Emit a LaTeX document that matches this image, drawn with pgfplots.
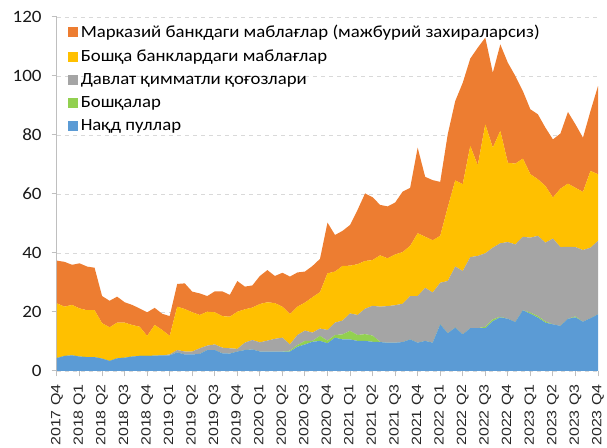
\documentclass[border=0pt]{standalone}
\usepackage{fontspec}
\setmainfont{Carlito}[FakeStretch=1.1]
\newfontfamily\xfont{Liberation Sans}[FakeStretch=1.2]
\usepackage{pgfplots}
\usepackage{pgfplotstable}
\pgfplotsset{compat=1.18}
\definecolor{cBlue}{HTML}{5B9BD5}
\definecolor{cGreen}{HTML}{92D050}
\definecolor{cGray}{HTML}{A5A5A5}
\definecolor{cYellow}{HTML}{FFC000}
\definecolor{cOrange}{HTML}{ED7D31}
\pgfplotstableread{
i b g s y o
0 4.4 0 0 18.5 14.5
1 5.1 0 0 16.7 15.2
2 5.3 0 0 17.1 13.6
3 4.9 0 0 16.3 15.3
4 4.7 0 0 15.9 14.8
5 4.7 0 0 15.9 14.4
6 4.2 0 0 12.0 9.2
7 3.4 0 0 11.4 9.0
8 4.3 0 0 12.1 8.8
9 4.5 0 0 11.9 6.9
10 4.9 0 0 10.7 6.8
11 5.1 0 0 9.9 6.2
12 5.1 0 0 6.8 8.0
13 5.2 0 0 10.4 5.8
14 5.3 0 0 8.6 5.5
15 5.3 0 0.3 6.3 6.7
16 6.3 0 0.8 14.7 7.7
17 5.6 0 1.0 14.4 8.7
18 5.6 0 1.0 13.3 7.0
19 5.8 0 1.9 11.3 7.3
20 7.1 0 1.5 11.5 5.3
21 7.1 0 1.9 10.9 7.1
22 6.0 0 1.9 10.7 8.4
23 5.9 0 1.8 10.7 7.4
24 6.6 0 0.9 12.6 10.4
25 7.1 0 2.5 11.3 7.7
26 7.3 0 3.2 11.0 7.5
27 6.6 0 3.1 13.0 9.5
28 6.6 0 3.7 13.0 10.9
29 6.6 0 4.3 12.1 9.2
30 6.6 0 4.7 10.5 11.5
31 6.6 0.3 2.1 10.3 12.7
32 8.2 0.6 3.4 9.6 11.6
33 9.0 1.2 3.5 9.5 10.5
34 9.9 0.3 2.8 12.0 10.6
35 10.2 1.7 2.5 12.3 11.3
36 9.4 0.9 3.6 19.2 17.2
37 11.3 0.9 4.2 17.3 12.4
38 10.7 1.7 4.7 18.5 11.9
39 10.7 2.9 5.9 16.2 13.8
40 10.2 2.0 6.8 17.2 18.4
41 10.2 2.3 8.6 16.2 22.9
42 9.9 2.1 10.1 15.5 21.3
43 9.8 0.1 11.9 17.4 17.1
44 9.6 0 12.4 16.2 17.6
45 9.6 0 12.7 17.2 17.6
46 9.8 0 13.0 17.5 20.5
47 10.7 0 14.7 17.0 19.7
48 9.6 0 15.8 21.3 29.0
49 10.2 0 18.0 17.3 20.3
50 9.6 0 17.0 17.7 20.4
51 15.8 0 14.1 15.9 18.3
52 12.8 0 17.7 24.9 24.8
53 14.7 0 20.7 29.2 26.9
54 12.4 0 21.5 29.4 34.4
55 14.5 0 24.1 37.7 29.6
56 14.5 0 24.5 30.7 39.9
57 14.5 0.5 24.9 43.7 29.4
58 16.9 0.6 24.3 33.9 25.4
59 18.2 0.2 24.9 38.1 29.3
60 17.7 0 26.0 26.9 33.9
61 16.6 0 26.3 27.4 29.7
62 20.6 0 24.9 26.5 22.9
63 19.4 0.4 25.4 21.5 22.0
64 18.1 0.5 27.2 19.2 22.0
65 16.4 0.4 26.7 19.2 19.8
66 15.8 0 29.1 13.9 19.7
67 15.3 0 26.7 19.8 18.7
68 17.7 0 24.4 21.4 24.3
69 18.2 0.3 23.5 20.1 21.5
70 16.7 0 24.3 19.7 18.4
71 17.9 0 23.9 26.0 20.3
72 19.2 0 24.9 22.6 29.9
}\data
\begin{document}
\begin{tikzpicture}
\path[use as bounding box] (-42.75pt,-57.75pt) rectangle (412.5pt,278.25pt);
\begin{axis}[
  at={(0pt,0pt)}, anchor=south west,
  scale only axis, width=405.75pt, height=265.5pt,
  xmin=0, xmax=72, ymin=0, ymax=120,
  stack plots=y,
  axis x line*=bottom, axis y line*=left,
  axis line style={draw=black!25, line width=0.75pt, -},
  xtick={0,3,...,72},
  xticklabels={2017 Q4,2018 Q1,2018 Q2,2018 Q3,2018 Q4,2019 Q1,2019 Q2,2019 Q3,2019 Q4,2020 Q1,2020 Q2,2020 Q3,2020 Q4,2021 Q1,2021 Q2,2021 Q3,2021 Q4,2022 Q1,2022 Q2,2022 Q3,2022 Q4,2023 Q1,2023 Q2,2023 Q3,2023 Q4},
  x tick label style={rotate=90, anchor=east, font=\xfont\fontsize{10}{12}\selectfont, text=black!85},
  xticklabel shift=2.5pt,
  ytick={0,20,...,120},
  y tick label style={font=\fontsize{13}{15}\selectfont, text=black!90},
  yticklabel shift=4pt,
  /pgf/number format/assume math mode=true,
  tick style={draw=black!25, line width=0.75pt},
  tick align=outside, major tick length=4pt,
  ymajorgrids, grid style={dashed, draw=black!15, line width=0.5pt},
  legend style={at={(0.02,0.985)}, anchor=north west, draw=none, fill=none,
    font=\fontsize{12.8}{15}\selectfont, row sep=3.5pt, inner sep=0pt},
  legend cell align=left,
  reverse legend,
  legend image code/.code={\fill[#1] (0pt,-3.75pt) rectangle (7.5pt,3.75pt);},
]
\addplot[fill=cBlue, draw=none] table[x=i,y=b]{\data} \closedcycle;
\addlegendentry{Нақд пуллар}
\addplot[fill=cGreen, draw=none] table[x=i,y=g]{\data} \closedcycle;
\addlegendentry{Бошқалар}
\addplot[fill=cGray, draw=none] table[x=i,y=s]{\data} \closedcycle;
\addlegendentry{Давлат қимматли қоғозлари}
\addplot[fill=cYellow, draw=none] table[x=i,y=y]{\data} \closedcycle;
\addlegendentry{Бошқа банклардаги маблағлар}
\addplot[fill=cOrange, draw=none] table[x=i,y=o]{\data} \closedcycle;
\addlegendentry{Марказий банкдаги маблағлар (мажбурий захираларсиз)}
\end{axis}
\end{tikzpicture}
\end{document}
